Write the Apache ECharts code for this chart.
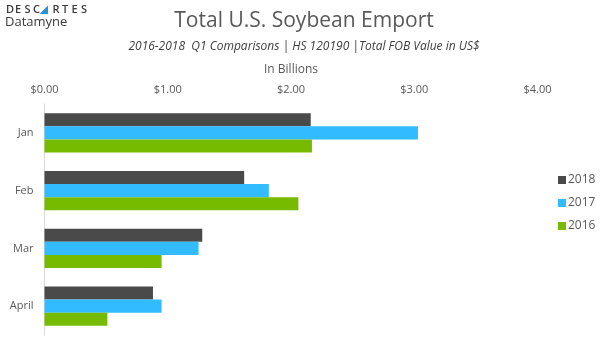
<!DOCTYPE html>
<html>
<head>
<meta charset="utf-8">
<script src="https://cdn.jsdelivr.net/npm/echarts@6/dist/echarts.min.js"></script>
<style>
  html, body { margin: 0; padding: 0; background: #fff; }
  #chart { width: 608px; height: 349px; }
</style>
</head>
<body>
<div id="chart"></div>
<script>
// Q1 soybean export values, US$ billions
const months = ['Jan', 'Feb', 'Mar', 'April'];
const years = ['2018', '2017', '2016'];
const values2018 = [2.16, 1.62, 1.28, 0.88];
const values2017 = [3.03, 1.82, 1.25, 0.95];
const values2016 = [2.17, 2.06, 0.95, 0.51];
const xTicks = [0, 1, 2, 3, 4];

const colors = ['#4a4a4a', '#33bbff', '#77bb00'];
const font = '"Open Sans", "Noto Sans", sans-serif';
const textGrey = '#595959';

const chart = echarts.init(document.getElementById('chart'), null, { renderer: 'canvas' });

const seriesValues = [values2018, values2017, values2016];

// wordmark letters, spaced out by hand; the "A" is a blue wedge
const markLetters = [['D', 6], ['E', 15], ['S', 24.5], ['C', 33], ['R', 52.5], ['T', 62], ['E', 71.5], ['S', 81]];
const logo = markLetters.map(([ch, x]) => ({
  type: 'text', left: x, top: 4,
  style: { text: ch, font: '600 11px ' + font, fill: '#3c3c3c' }
}));
logo.push({ type: 'polygon', shape: { points: [[48, 5.5], [48, 14], [39.5, 14]] }, style: { fill: '#2b8fd8' } });
logo.push({ type: 'text', left: 5, top: 16, style: { text: 'Datamyne', font: '13px ' + font, fill: '#3a3a3a' } });

chart.setOption({
  animation: false,
  textStyle: { fontFamily: font },
  title: [
    {
      text: 'Total U.S. Soybean Emport',
      left: 'center',
      top: 6,
      textStyle: { fontFamily: font, fontSize: 21, fontWeight: 'normal', color: textGrey }
    },
    {
      text: '2016-2018  Q1 Comparisons | HS 120190 |Total FOB Value in US$',
      left: 'center',
      top: 36,
      textStyle: { fontFamily: font, fontSize: 12, fontStyle: 'italic', fontWeight: 'normal', color: '#404040' }
    }
  ],
  legend: {
    orient: 'vertical',
    left: 553,
    top: 169,
    itemWidth: 8,
    itemHeight: 8,
    itemGap: 11,
    icon: 'rect',
    data: years,
    textStyle: { fontFamily: font, fontSize: 12, color: textGrey, padding: [0, 0, 0, -3] }
  },
  grid: { left: 44.5, right: 70.5, top: 104, bottom: 14, containLabel: false },
  xAxis: {
    type: 'value',
    position: 'top',
    min: xTicks[0],
    max: xTicks[xTicks.length - 1],
    interval: 1,
    name: 'In Billions',
    nameLocation: 'middle',
    nameGap: 28,
    nameTextStyle: { fontFamily: font, fontSize: 12, color: textGrey },
    axisLine: { show: false },
    axisTick: { show: false },
    splitLine: { show: false },
    axisLabel: {
      fontFamily: font, fontSize: 11, color: textGrey, margin: 9,
      formatter: v => '$' + v.toFixed(2)
    }
  },
  yAxis: {
    type: 'category',
    data: months,
    inverse: true,
    axisLine: { show: true, lineStyle: { color: '#d9d9d9', width: 1 } },
    axisTick: { show: false },
    axisLabel: { fontFamily: font, fontSize: 11, color: textGrey, margin: 11 }
  },
  series: years.map((y, i) => ({
    name: y,
    type: 'bar',
    data: seriesValues[i],
    barGap: '0%',
    barCategoryGap: '32%',
    itemStyle: { color: colors[i] }
  })),
  graphic: logo
});
</script>
</body>
</html>
